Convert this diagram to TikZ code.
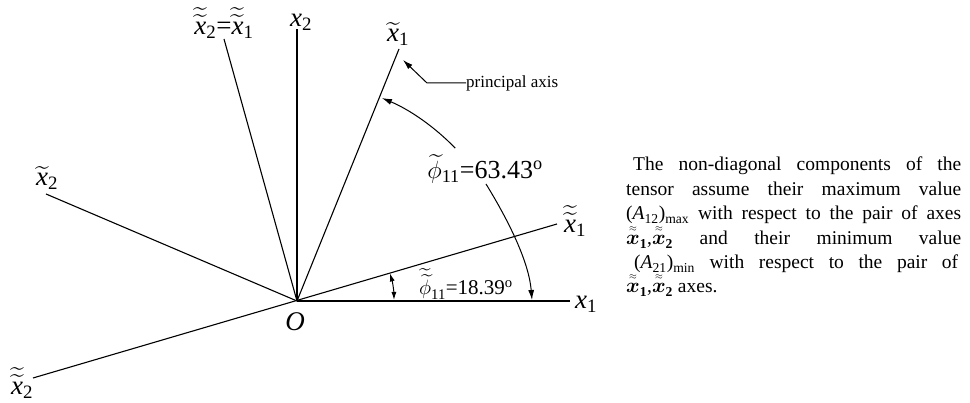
\documentclass[tikz,border=0pt]{standalone}
\usepackage{amsmath}
\usepackage{fontspec}
\setmainfont{Liberation Serif}
\usetikzlibrary{arrows.meta}
\newcommand{\axx}{\text{\itshape x}}
\newcommand{\axsub}[1]{\text{#1}}
\newcommand{\bxx}[1]{$\overset{\scriptscriptstyle\approx}{\boldsymbol{x}}_{\mathbf{#1}}$}

\begin{document}
\begin{tikzpicture}[x=1pt, y=1pt,
    axis/.style={line width=1.1pt},
    axlabel/.style={font=\fontsize{27}{30}\selectfont, inner sep=0pt},
    anglearrow/.style={line width=1pt, -{Latex[length=10pt,width=6pt]}},
    textline/.style={anchor=base west, inner sep=0pt, font=\fontsize{19.5}{24}\selectfont},
]
\useasboundingbox (0,0) rectangle (970,403);

% === Axes ===
\coordinate (O) at (297,102);
\coordinate (x1end) at (570,102);
\coordinate (x2end) at (297,374);
\coordinate (xt1end) at (399,354);
\coordinate (xt2end) at (46,209);
\coordinate (xtt1end) at (557,179);
\coordinate (xtt2end) at (33,25);
\coordinate (xttsend) at (224,364);

\draw[axis] (O) -- (x1end);
\draw[axis] (O) -- (x2end);
\draw[axis] (O) -- (xt1end);
\draw[axis] (O) -- (xt2end);
\draw[axis] (xtt2end) -- (xtt1end);
\draw[axis] (O) -- (xttsend);

\node[axlabel] (O label) at (295,81) {\itshape O};
\node[axlabel] (x1) at (586,99) {$\axx_{\axsub{1}}$};
\node[axlabel] (x2) at (301,381) {$\axx_{\axsub{2}}$};
\node[axlabel] (xt1) at (398,369) {$\widetilde{\axx}_{\axsub{1}}$};
\node[axlabel] (xt2) at (47,225) {$\widetilde{\axx}_{\axsub{2}}$};
\node[axlabel] (xtt1) at (575,182) {$\widetilde{\widetilde{\axx}}_{\axsub{1}}$};
\node[axlabel] (xtt2) at (22,20) {$\widetilde{\widetilde{\axx}}_{\axsub{2}}$};
\node[axlabel] (xtts) at (224,380) {$\widetilde{\widetilde{\axx}}_{\axsub{2}}$=$\widetilde{\widetilde{\axx}}_{\axsub{1}}$};

% === Principal axis ===
\node[inner sep=0pt, anchor=west, font=\fontsize{17}{20}\selectfont] (pa) at (466,320) {principal axis};
\coordinate (pakink) at (427,320);
\coordinate (patip) at (403,343);
\draw[anglearrow] (pa.west) -- (pakink) -- (patip);

% === Angle 63.43 ===
\node[axlabel, font=\fontsize{26}{29}\selectfont] (phi63) at (485,234) {$\widetilde{\phi}_{\axsub{11}}$=63.43\textsuperscript{o}};
\path (O) ++(44:220) coordinate (arcA);
\draw[anglearrow] (arcA) arc[start angle=44, end angle=67.3, radius=220];
\coordinate (arcB) at (486,219);
\coordinate (arcBtip) at (532,103);
\draw[anglearrow] (arcB) .. controls (510,180) and (529,140) .. (arcBtip);

% === Angle 18.39 ===
\node[axlabel, font=\fontsize{21}{24}\selectfont] (phi18) at (466,119) {$\widetilde{\widetilde{\phi}}_{\axsub{11}}$=18.39\textsuperscript{o}};
\path (O) ++(16.5:97) coordinate (arcC);
\draw[line width=1pt, {Latex[length=8pt,width=5pt]}-{Latex[length=8pt,width=5pt]}] (arcC) arc[start angle=16.5, end angle=0.6, radius=97];

% === Explanation ===
\node[textline] (t1) at (633,232) {\makebox[328pt][s]{The non-diagonal components of the}};
\node[textline] (t2) at (626,207) {\makebox[335pt][s]{tensor assume their maximum value}};
\node[textline] (t3) at (626,183) {\makebox[335pt][s]{({\itshape A}\textsubscript{12})\textsubscript{max} with respect to the pair of axes}};
\node[textline] (t4) at (626,158) {\makebox[335pt][s]{\bxx{1},\bxx{2} and their minimum value}};
\node[textline] (t5) at (634,134) {\makebox[324pt][s]{({\itshape A}\textsubscript{21})\textsubscript{min} with respect to the pair of}};
\node[textline] (t6) at (626,110) {\bxx{1},\bxx{2} axes.};

\end{tikzpicture}
\end{document}
